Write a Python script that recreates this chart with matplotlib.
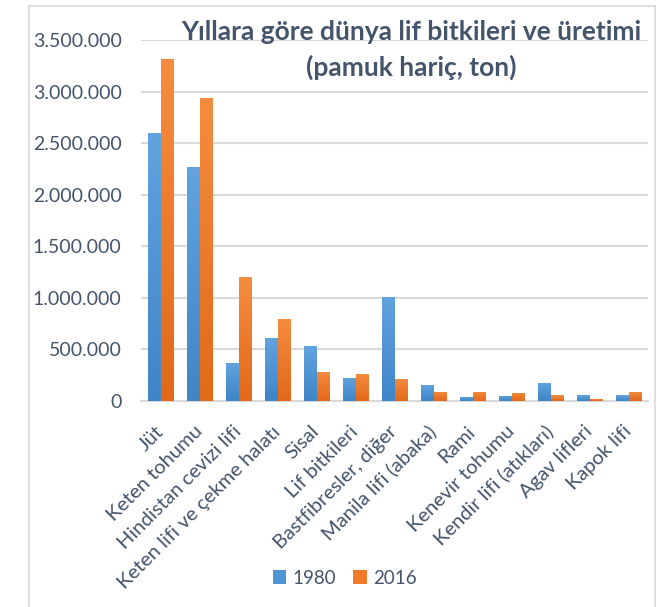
import matplotlib
matplotlib.use('Agg')
import matplotlib.pyplot as plt
import numpy as np
from matplotlib.colors import LinearSegmentedColormap
from matplotlib.lines import Line2D
from matplotlib.patches import Patch

categories = ['Jüt', 'Keten tohumu', 'Hindistan cevizi lifi', 'Keten lifi ve çekme halatı',
              'Sisal', 'Lif bitkileri', 'Bastfibresler, diğer', 'Manila lifi (abaka)',
              'Rami', 'Kenevir tohumu', 'Kendir lifi (atıkları)', 'Agav lifleri', 'Kapok lifi']
values_1980 = [2595000, 2265000, 370000, 612000, 535000, 225000, 1010000,
               157000, 40000, 50000, 175000, 58000, 58000]
values_2016 = [3315000, 2935000, 1205000, 797000, 282000, 262000, 215000,
               88000, 88000, 78000, 58000, 20000, 88000]
years = ['1980', '2016']
yticks = [0, 500000, 1000000, 1500000, 2000000, 2500000, 3000000, 3500000]

TEXT = '#44546A'
GRID = '#d9d9d9'
plt.rcParams['font.family'] = ['Lato', 'DejaVu Sans']

blue_cmap = LinearSegmentedColormap.from_list('b', ['#3f85c7', '#62a3df'])
orange_cmap = LinearSegmentedColormap.from_list('o', ['#e2691a', '#f58c40'])


def gradient_bars(ax, bars, cmap):
    grad = np.linspace(0, 1, 64).reshape(-1, 1)
    for b in bars:
        x, y = b.get_x(), b.get_y()
        w, h = b.get_width(), b.get_height()
        im = ax.imshow(grad, cmap=cmap, origin='lower', aspect='auto',
                       extent=(x, x + w, y, y + h), zorder=3)
        im.set_clip_path(b)
        b.set_facecolor('none')


fig = plt.figure(figsize=(6.57, 6.07), dpi=100)
ax = fig.add_axes([141 / 657, 206 / 607, 507 / 657, 361 / 607])

x = np.arange(len(categories))
w = 0.315
b1 = ax.bar(x - 0.17, values_1980, w, color='#4a90d4', linewidth=0, zorder=3)
b2 = ax.bar(x + 0.17, values_2016, w, color='#ee7a2a', linewidth=0, zorder=3)
gradient_bars(ax, b1, blue_cmap)
gradient_bars(ax, b2, orange_cmap)

ax.set_xlim(-0.5, len(categories) - 0.5)
ax.set_ylim(0, 3500000)
ax.set_yticks(yticks)
ax.set_yticklabels([f'{v:,}'.replace(',', '.') for v in yticks])
ax.yaxis.grid(True, color=GRID, linewidth=1.5, zorder=0)
ax.set_axisbelow(True)
for s in ['top', 'right', 'left']:
    ax.spines[s].set_visible(False)
ax.spines['bottom'].set_color(GRID)
ax.spines['bottom'].set_linewidth(1.5)
ax.tick_params(axis='both', length=0, colors=TEXT)
ax.tick_params(axis='y', labelsize=14, pad=14)

ax.set_xticks(x)
ax.set_xticklabels(categories, rotation=45, ha='right', va='center',
                   rotation_mode='anchor', fontsize=14.5, color=TEXT)
ax.tick_params(axis='x', pad=20)

fig.text(411 / 657, 1 - 32 / 607, 'Yıllara göre dünya lif bitkileri ve üretimi',
         ha='center', va='center', fontsize=19, fontweight='bold', color=TEXT)
fig.text(411 / 657, 1 - 67 / 607, '(pamuk hariç, ton)',
         ha='center', va='center', fontsize=19, fontweight='bold', color=TEXT)

handles = [Patch(facecolor='#4f95d6', edgecolor='none'),
           Patch(facecolor='#ee7a2a', edgecolor='none')]
fig.legend(handles, years, loc='center', bbox_to_anchor=(345 / 657, 29 / 607),
           ncol=2, frameon=False, fontsize=13.5, labelcolor=TEXT,
           handlelength=0.7, handleheight=0.7, handletextpad=0.35, columnspacing=0.9)

# chart border
fig.add_artist(Line2D([29 / 657, 29 / 657], [0, 1 - 6 / 607], color=GRID, linewidth=1.2))
fig.add_artist(Line2D([29 / 657, 655 / 657], [1 - 6 / 607, 1 - 6 / 607], color=GRID, linewidth=1.2))
fig.add_artist(Line2D([655 / 657, 655 / 657], [0, 1 - 6 / 607], color=GRID, linewidth=1.2))

fig.savefig('out.png', dpi=100)
